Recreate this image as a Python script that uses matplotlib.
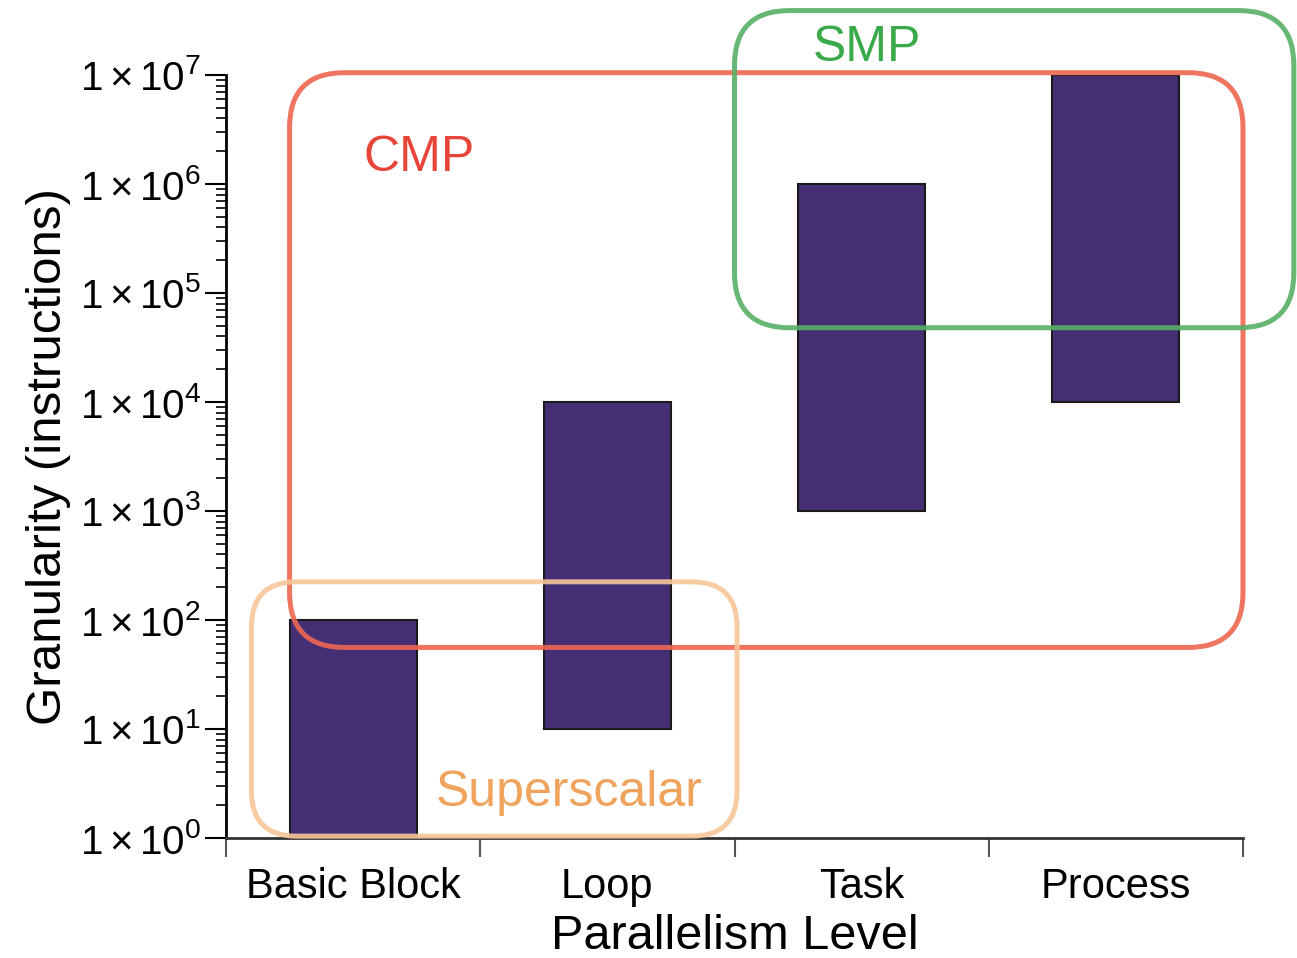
import math
import matplotlib.pyplot as plt
from matplotlib.patches import FancyBboxPatch
from matplotlib.ticker import LogLocator, FixedLocator, NullFormatter, FuncFormatter

plt.rcParams['font.family'] = ['Liberation Sans', 'DejaVu Sans']
plt.rcParams['mathtext.fontset'] = 'custom'
plt.rcParams['mathtext.rm'] = 'Liberation Sans'
plt.rcParams['mathtext.it'] = 'Liberation Sans:italic'
plt.rcParams['mathtext.bf'] = 'Liberation Sans:bold'

# granularity range per parallelism level
levels = ['Basic Block', 'Loop', 'Task', 'Process']
low = [1, 10, 1e3, 1e4]
high = [1e2, 1e4, 1e6, 1e7]

# architecture groupings drawn as rounded boxes
groups = ['CMP', 'SMP', 'Superscalar']
group_x = [(0.25, 4.0), (2.0, 4.2), (0.1, 2.01)]
group_y = [(56, 1.05e7), (4.8e4, 3.9e7), (1.04, 224)]
group_line = ['#ee6650', '#57b066', '#f8c699']
group_text = ['#e8453a', '#3aa949', '#f0a35c']
label_xy = [(0.76, 10**6.24), (2.52, 10**7.25), (1.35, 10**0.41)]

fig = plt.figure(figsize=(12.97, 9.58), dpi=100)
ax = fig.add_axes([226 / 1297, 1 - 838 / 958, 1017 / 1297, 763 / 958])

centers = [i + 0.5 for i in range(len(levels))]
heights = [h - l for l, h in zip(low, high)]
ax.bar(centers, heights, bottom=low, width=0.5, color='#452f74',
       edgecolor='#1a1a1a', linewidth=1.5, zorder=2)

ax.set_yscale('log')
ax.set_xlim(0, 4)
ax.set_ylim(1, 1e7)

for s in ['top', 'right']:
    ax.spines[s].set_visible(False)
ax.spines['left'].set_linewidth(2)
ax.spines['bottom'].set_linewidth(2)
ax.spines['bottom'].set_color('#333333')

ax.yaxis.set_major_locator(LogLocator(base=10, numticks=10))
ax.yaxis.set_minor_locator(LogLocator(base=10, subs=range(2, 10), numticks=20))
ax.yaxis.set_minor_formatter(NullFormatter())
ax.yaxis.set_major_formatter(FuncFormatter(
    lambda v, p: r'$1\times10^{%d}$' % round(math.log10(v))))
ax.tick_params(axis='y', which='major', length=15, width=1.5, labelsize=29, pad=3)
ax.tick_params(axis='y', which='minor', length=7, width=1.2)

ax.xaxis.set_major_locator(FixedLocator(range(len(levels) + 1)))
ax.xaxis.set_major_formatter(NullFormatter())
ax.xaxis.set_minor_locator(FixedLocator(centers))
ax.set_xticklabels(levels, minor=True)
ax.tick_params(axis='x', which='major', length=14, width=1.5, color='#555555')
ax.tick_params(axis='x', which='minor', length=0, labelsize=30, pad=21)

ax.set_xlabel('Parallelism Level', fontsize=35, labelpad=5)
ax.set_ylabel('Granularity (instructions)', fontsize=35.5, labelpad=6)

# rounded boxes in axes fraction, corners kept circular in pixels
to_ax = ax.transData + ax.transAxes.inverted()
aspect = 1017 / 763
for name, xs, ys, lc, tc, (tx, ty) in zip(groups, group_x, group_y,
                                          group_line, group_text, label_xy):
    (x0, y0) = to_ax.transform((xs[0], ys[0]))
    (x1, y1) = to_ax.transform((xs[1], ys[1]))
    rad = 45 / 1017 if name == 'Superscalar' else 55 / 1017
    box = FancyBboxPatch((x0, y0), x1 - x0, y1 - y0,
                         boxstyle='round,pad=0,rounding_size=%f' % rad,
                         mutation_aspect=aspect, transform=ax.transAxes,
                         facecolor='none', edgecolor=lc, linewidth=3.6,
                         alpha=0.9, clip_on=False, zorder=3)
    ax.add_patch(box)
    ax.text(tx, ty, name, color=tc, fontsize=36, ha='center', va='center',
            zorder=4)

fig.savefig('out.png', dpi=100)
